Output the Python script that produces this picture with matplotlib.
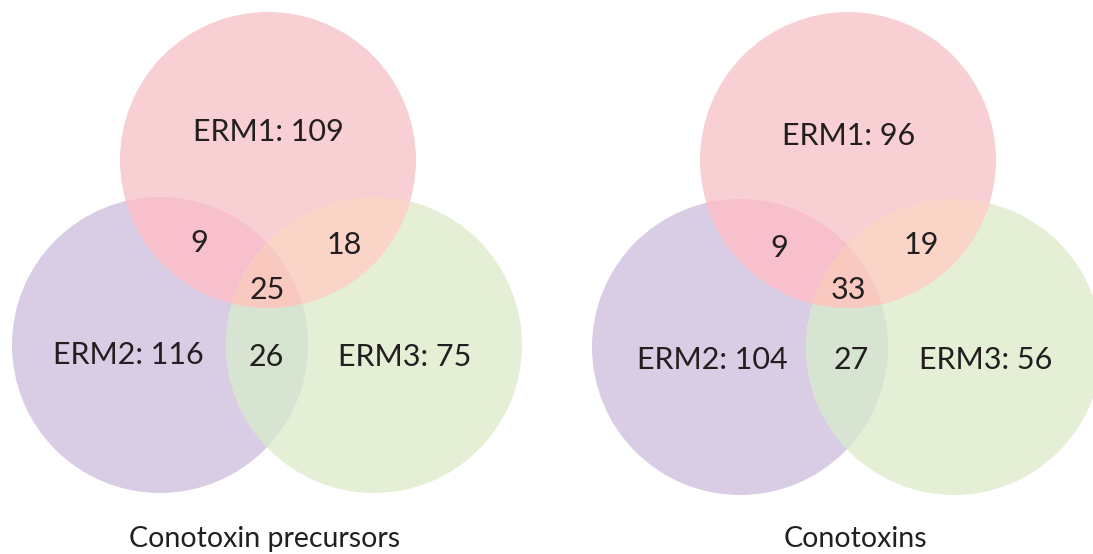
import numpy as np
import matplotlib.pyplot as plt
from matplotlib.patches import Circle, Polygon

plt.rcParams['font.family'] = ['Lato', 'DejaVu Sans']

titles = ['Conotoxin precursors', 'Conotoxins']
sets = ['ERM1', 'ERM2', 'ERM3']
only_counts = [[109, 116, 75], [96, 104, 56]]
# pairwise overlaps: (ERM1&ERM2, ERM1&ERM3, ERM2&ERM3), then all three
pair_counts = [[9, 18, 26], [9, 19, 27]]
triple_counts = [25, 33]

col_set = ['#F8D0D3', '#D9CDE5', '#E4EFD6']
col_pair = ['#F8C0CC', '#FBD4C8', '#D8E4D2']
col_triple = '#F9C9C0'
txt_col = '#231F20'

R = 148
centers = [[(268, 160), (160, 345), (374, 345)],
           [(848, 160), (740, 347), (954, 347)]]
only_pos = [[(268, 132), (128, 355), (405, 357)],
            [(849, 136), (712, 360), (986, 360)]]
pair_pos = [[(199, 243), (344, 245), (266, 357)],
            [(779, 248), (921, 245), (851, 360)]]
triple_pos = [(267, 290), (848, 290)]
title_pos = [(265, 539), (855, 539)]


def lens(c1, c2, r, n=120):
    c1 = np.array(c1, float)
    c2 = np.array(c2, float)
    d = np.linalg.norm(c2 - c1)
    a = np.arccos(d / 2 / r)
    t0 = np.arctan2(*(c2 - c1)[::-1])
    t1 = t0 + np.pi
    th1 = np.linspace(t0 - a, t0 + a, n)
    th2 = np.linspace(t1 - a, t1 + a, n)
    p1 = c1 + r * np.c_[np.cos(th1), np.sin(th1)]
    p2 = c2 + r * np.c_[np.cos(th2), np.sin(th2)]
    return np.vstack([p1, p2])


fig = plt.figure(figsize=(10.93, 5.54), dpi=100)
ax = fig.add_axes([0, 0, 1, 1])
ax.set_xlim(0, 1093)
ax.set_ylim(554, 0)
ax.axis('off')

pairs = [(0, 1), (0, 2), (1, 2)]
for k in range(2):
    cs = centers[k]
    for i in [1, 2, 0]:
        ax.add_patch(Circle(cs[i], R, facecolor=col_set[i], edgecolor='none'))
    for j, (a, b) in enumerate(pairs):
        ax.add_patch(Polygon(lens(cs[a], cs[b], R), closed=True,
                             facecolor=col_pair[j], edgecolor='none'))
    clip = Circle(cs[2], R, transform=ax.transData)
    tri = Polygon(lens(cs[0], cs[1], R), closed=True,
                  facecolor=col_triple, edgecolor='none')
    ax.add_patch(tri)
    tri.set_clip_path(clip)

    for i in range(3):
        ax.text(*only_pos[k][i], f'{sets[i]}: {only_counts[k][i]}',
                ha='center', va='center', fontsize=22, color=txt_col)
        ax.text(*pair_pos[k][i], str(pair_counts[k][i]),
                ha='center', va='center', fontsize=22, color=txt_col)
    ax.text(*triple_pos[k], str(triple_counts[k]),
            ha='center', va='center', fontsize=22, color=txt_col)
    ax.text(*title_pos[k], titles[k], ha='center', va='center',
            fontsize=20.5, color=txt_col)

fig.savefig('out.png', dpi=100, facecolor='white')
